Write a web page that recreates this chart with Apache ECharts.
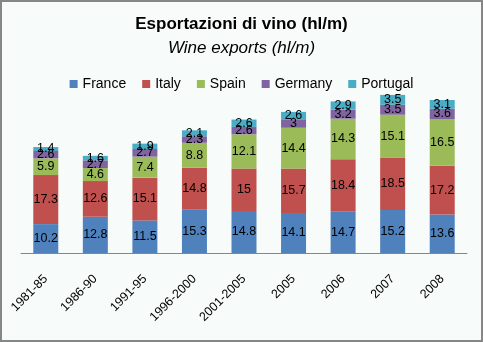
<!DOCTYPE html>
<html>
<head>
<meta charset="utf-8">
<script src="https://cdn.jsdelivr.net/npm/echarts@6/dist/echarts.min.js"></script>
<style>
  html, body { margin: 0; padding: 0; background: #f7fcfa; }
  #chart { width: 483px; height: 342px; box-sizing: border-box; border: 2px solid #868686; }
</style>
</head>
<body>
<div id="chart"></div>
<script>
// Wine exports per producer country, in hl/m, stacked by period
const periods = ['1981-85', '1986-90', '1991-95', '1996-2000', '2001-2005', '2005', '2006', '2007', '2008'];
const france   = [10.2, 12.8, 11.5, 15.3, 14.8, 14.1, 14.7, 15.2, 13.6];
const italy    = [17.3, 12.6, 15.1, 14.8, 15, 15.7, 18.4, 18.5, 17.2];
const spain    = [5.9, 4.6, 7.4, 8.8, 12.1, 14.4, 14.3, 15.1, 16.5];
const germany  = [2.6, 2.7, 2.7, 2.3, 2.6, 3, 3.2, 3.5, 3.6];
const portugal = [1.4, 1.6, 1.9, 2.1, 2.6, 2.6, 2.9, 3.5, 3.1];

const countries = [
  { name: 'France', data: france, color: '#4f81bd' },
  { name: 'Italy', data: italy, color: '#c0504d' },
  { name: 'Spain', data: spain, color: '#9bbb59' },
  { name: 'Germany', data: germany, color: '#8064a2' },
  { name: 'Portugal', data: portugal, color: '#4bacc6' }
];

const FONT = 'Liberation Sans';
const chart = echarts.init(document.getElementById('chart'), null, { renderer: 'canvas' });

chart.setOption({
  backgroundColor: '#f7fcfa',
  animation: false,
  title: [
    { text: 'Esportazioni di vino (hl/m)', left: 'center', top: 9,
      textStyle: { fontFamily: FONT, fontSize: 17, fontWeight: 'bold', color: '#000' } },
    { text: 'Wine exports (hl/m)', left: 'center', top: 33,
      textStyle: { fontFamily: FONT, fontSize: 17, fontWeight: 'normal', fontStyle: 'italic', color: '#000' } }
  ],
  legend: {
    top: 70, left: 'center',
    itemWidth: 8, itemHeight: 8, itemGap: 16,
    icon: 'rect',
    textStyle: { fontFamily: FONT, fontSize: 14, color: '#000' },
    data: countries.map(c => c.name)
  },
  grid: { left: 19, right: 14, top: 81, bottom: 87 },
  xAxis: {
    type: 'category',
    data: periods,
    axisLine: { lineStyle: { color: '#868686', width: 1 } },
    axisTick: { show: false },
    axisLabel: { rotate: 45, margin: 24, interval: 0, fontFamily: FONT, fontSize: 12.5, color: '#000' }
  },
  yAxis: {
    type: 'value', min: 0, max: 60, show: false,
    splitLine: { show: false }
  },
  series: countries.map(c => ({
    name: c.name,
    type: 'bar',
    stack: 'total',
    barWidth: 25,
    data: c.data,
    itemStyle: { color: c.color },
    label: {
      show: true, position: 'inside',
      fontFamily: FONT, fontSize: 12.5, color: '#000'
    }
  }))
});
</script>
</body>
</html>
